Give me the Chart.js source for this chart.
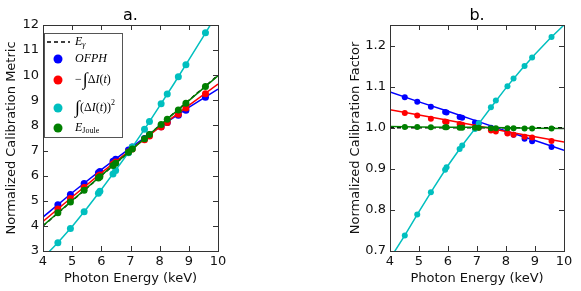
<!DOCTYPE html>
<html>
<head>
<meta charset="UTF-8">
<title>Calibration metrics</title>
<script src="https://cdn.jsdelivr.net/npm/chart.js"></script>
<style>
  body { margin: 0; background: #fff; }
  #wrap { position: relative; width: 581px; height: 291px; }
  #left { position: absolute; left: 0; top: 0; }
  #right { position: absolute; left: 290px; top: 0; }
</style>
</head>
<body>
<div id="wrap">
  <canvas id="left" width="290" height="291"></canvas>
  <canvas id="right" width="291" height="291"></canvas>
</div>
<script>
// photon energies (keV) of the measured lines
const energies = [4.51, 4.94, 5.41, 5.90, 5.95, 6.40, 6.49, 6.93, 7.06, 7.48, 7.65, 8.05, 8.26, 8.64, 8.90, 9.57];

// panel a: normalized calibration metric
const ofphA   = [4.84, 5.25, 5.69, 6.12, 6.17, 6.57, 6.65, 7.02, 7.14, 7.48, 7.63, 7.95, 8.12, 8.41, 8.61, 9.12];
const intA    = [4.67, 5.09, 5.53, 5.99, 6.03, 6.46, 6.54, 6.94, 7.06, 7.43, 7.58, 7.94, 8.12, 8.45, 8.69, 9.26];
const sqA     = [3.33, 3.90, 4.56, 5.30, 5.38, 6.07, 6.21, 6.91, 7.14, 7.85, 8.16, 8.86, 9.25, 9.94, 10.42, 11.69];
const jouleA  = [4.52, 4.95, 5.42, 5.91, 5.96, 6.40, 6.49, 6.93, 7.06, 7.47, 7.64, 8.04, 8.25, 8.62, 8.88, 9.55];

// panel b: normalized calibration factor
const ofphB   = [1.074, 1.063, 1.051, 1.038, 1.037, 1.026, 1.024, 1.013, 1.011, 1.000, 0.997, 0.988, 0.983, 0.973, 0.967, 0.953];
const intB    = [1.036, 1.030, 1.022, 1.015, 1.014, 1.009, 1.007, 1.001, 1.000, 0.993, 0.991, 0.986, 0.983, 0.978, 0.976, 0.968];
const sqB     = [0.738, 0.789, 0.843, 0.898, 0.904, 0.948, 0.957, 0.997, 1.011, 1.050, 1.066, 1.101, 1.120, 1.150, 1.171, 1.221];
const jouleB  = [1.002, 1.002, 1.001, 1.001, 1.001, 1.000, 1.000, 1.000, 1.000, 0.999, 0.999, 0.999, 0.999, 0.998, 0.998, 0.998];

// fitted curves, sampled at these energies
const fitE     = [4, 5, 6, 7, 8, 9, 10];
const ofphFitA  = [4.35, 5.32, 6.24, 7.11, 7.94, 8.72, 9.45];
const intFitA   = [4.18, 5.15, 6.11, 7.03, 7.93, 8.80, 9.65];
const jouleFitA = [4.01, 5.01, 6.01, 7.00, 8.00, 8.99, 9.98];
const egammaA   = [4, 5, 6, 7, 8, 9, 10];

const ofphFitB  = [1.087, 1.063, 1.040, 1.016, 0.992, 0.969, 0.945];
const intFitB   = [1.044, 1.031, 1.018, 1.005, 0.991, 0.978, 0.965];
const jouleFitB = [1.003, 1.002, 1.001, 1.001, 1.000, 0.999, 0.998];
const egammaB   = [1, 1, 1, 1, 1, 1, 1];

// the squared-integral fit is curved, so it gets a finer grid
const fitE2   = [4.0, 4.5, 5.0, 5.5, 6.0, 6.5, 7.0, 7.5, 8.0, 8.5, 9.0, 9.5, 10.0];
const sqFitA  = [2.72, 3.32, 3.98, 4.69, 5.45, 6.23, 7.03, 7.88, 8.78, 9.68, 10.61, 11.55, 12.50];
const sqFitB  = [0.681, 0.737, 0.796, 0.853, 0.908, 0.958, 1.004, 1.051, 1.097, 1.139, 1.179, 1.216, 1.250];

const xTicks = [4, 5, 6, 7, 8, 9, 10];

const BLUE = '#0000ff', RED = '#ff0000', CYAN = '#00bfbf', GREEN = '#008000';
const FONT = 'DejaVu Sans';

function pts(xs, ys) { return xs.map((x, i) => ({ x: x, y: ys[i] })); }

function lineDs(xs, ys, color, dash) {
  return { data: pts(xs, ys), showLine: true, borderColor: color, borderWidth: 1.5,
           borderDash: dash || [], pointRadius: 0, pointHoverRadius: 0 };
}
function dotDs(ys, color, r) {
  return { data: pts(energies, ys), showLine: false, backgroundColor: color,
           borderColor: color, pointRadius: r, borderWidth: 0 };
}

// frame with inward ticks on all four sides, plus panel title
const framePlugin = {
  id: 'frame',
  afterDraw(chart, args, opts) {
    const ctx = chart.ctx, a = chart.chartArea;
    ctx.save();
    ctx.strokeStyle = '#333';
    ctx.lineWidth = 1;
    ctx.strokeRect(Math.round(a.left) + 0.5, Math.round(a.top) + 0.5,
                   Math.round(a.right - a.left), Math.round(a.bottom - a.top));
    ctx.beginPath();
    const xs = chart.scales.x, ys = chart.scales.y;
    xs.ticks.forEach(t => {
      const px = Math.round(xs.getPixelForValue(t.value)) + 0.5;
      ctx.moveTo(px, a.bottom); ctx.lineTo(px, a.bottom - 5);
      ctx.moveTo(px, a.top); ctx.lineTo(px, a.top + 5);
    });
    ys.ticks.forEach(t => {
      const py = Math.round(ys.getPixelForValue(t.value)) + 0.5;
      ctx.moveTo(a.left, py); ctx.lineTo(a.left + 5, py);
      ctx.moveTo(a.right, py); ctx.lineTo(a.right - 5, py);
    });
    ctx.stroke();
    ctx.fillStyle = '#000';
    ctx.font = '16px "' + FONT + '"';
    ctx.textAlign = 'center';
    ctx.textBaseline = 'alphabetic';
    ctx.fillText(opts.title, (a.left + a.right) / 2, a.top - 5);
    ctx.restore();
  }
};

// legend with math-like labels for panel a
function drawRuns(ctx, x, y, runs) {
  runs.forEach(r => {
    ctx.font = r.font;
    ctx.fillText(r.t, x, y + (r.dy || 0));
    x += ctx.measureText(r.t).width + (r.gap || 0);
  });
}
const legendPlugin = {
  id: 'mathLegend',
  afterDraw(chart) {
    const ctx = chart.ctx;
    ctx.save();
    ctx.fillStyle = '#fff';
    ctx.fillRect(44, 33, 78, 104);
    ctx.strokeStyle = '#555';
    ctx.lineWidth = 1;
    ctx.strokeRect(44.5, 33.5, 78, 104);
    ctx.strokeStyle = '#000';
    ctx.lineWidth = 1.5;
    ctx.setLineDash([4, 3]);
    ctx.beginPath(); ctx.moveTo(47, 42); ctx.lineTo(70, 42); ctx.stroke();
    ctx.setLineDash([]);
    const marks = [[59, BLUE], [80, RED], [108, CYAN], [128, GREEN]];
    marks.forEach(m => {
      ctx.fillStyle = m[1];
      ctx.beginPath(); ctx.arc(58, m[0], 4.5, 0, Math.PI * 2); ctx.fill();
    });
    ctx.fillStyle = '#000';
    ctx.textBaseline = 'middle';
    ctx.textAlign = 'left';
    const it = 'italic 12px "Liberation Serif"', up = '12px "Liberation Serif"';
    const sm = '8px "Liberation Serif"', big = '18px "Liberation Serif"';
    drawRuns(ctx, 75, 42, [{ t: 'E', font: it }, { t: 'γ', font: 'italic ' + sm, dy: 3 }]);
    drawRuns(ctx, 75, 59, [{ t: 'OFPH', font: it }]);
    drawRuns(ctx, 75, 80, [{ t: '−', font: up, gap: 1 }, { t: '∫', font: big }, { t: 'Δ', font: up },
                           { t: 'I', font: it }, { t: '(', font: up }, { t: 't', font: it }, { t: ')', font: up }]);
    drawRuns(ctx, 75, 108, [{ t: '∫', font: big }, { t: '(Δ', font: up }, { t: 'I', font: it }, { t: '(', font: up },
                            { t: 't', font: it }, { t: '))', font: up }, { t: '2', font: sm, dy: -5 }]);
    drawRuns(ctx, 75, 128, [{ t: 'E', font: it }, { t: 'Joule', font: sm, dy: 3 }]);
    ctx.restore();
  }
};

function makeChart(id, cfg) {
  return new Chart(document.getElementById(id), {
    type: 'scatter',
    data: { datasets: cfg.datasets },
    options: {
      responsive: false,
      animation: false,
      events: [],
      layout: { padding: cfg.padding },
      plugins: { legend: { display: false }, tooltip: { enabled: false }, frame: { title: cfg.title } },
      scales: {
        x: {
          type: 'linear', min: 4, max: 10,
          afterBuildTicks: s => { s.ticks = xTicks.map(v => ({ value: v })); },
          afterFit: s => { s.height = 40; },
          grid: { display: false, drawTicks: false },
          border: { display: false },
          ticks: { color: '#111', font: { family: FONT, size: 13 }, padding: 3 },
          title: { display: true, text: 'Photon Energy (keV)', color: '#111',
                   font: { family: FONT, size: 13 }, padding: { top: 0, bottom: 5 } }
        },
        y: {
          type: 'linear', min: cfg.ymin, max: cfg.ymax,
          afterBuildTicks: s => { s.ticks = cfg.yTicks.map(v => ({ value: v })); },
          afterFit: s => { s.width = cfg.yWidth; },
          grid: { display: false, drawTicks: false },
          border: { display: false },
          ticks: { color: '#111', font: { family: FONT, size: 13 }, padding: 4,
                   callback: cfg.yFmt },
          title: { display: true, text: cfg.yTitle, color: '#111',
                   font: { family: FONT, size: 13 }, padding: { top: 4, bottom: 4 } }
        }
      }
    },
    plugins: cfg.plugins
  });
}

makeChart('left', {
  title: 'a.',
  padding: { left: 0, right: 72, top: 25, bottom: 0 },
  ymin: 3, ymax: 12, yWidth: 43,
  yTicks: [3, 4, 5, 6, 7, 8, 9, 10, 11, 12],
  yFmt: v => String(v),
  yTitle: 'Normalized Calibration Metric',
  plugins: [framePlugin, legendPlugin],
  datasets: [
    dotDs(jouleA, GREEN, 3.5), lineDs(fitE, jouleFitA, GREEN),
    dotDs(sqA, CYAN, 3.5), lineDs(fitE2, sqFitA, CYAN),
    dotDs(intA, RED, 3.5), lineDs(fitE, intFitA, RED),
    dotDs(ofphA, BLUE, 3.5), lineDs(fitE, ofphFitA, BLUE),
    lineDs(fitE, egammaA, '#000', [4, 3])
  ]
});

makeChart('right', {
  title: 'b.',
  padding: { left: 54, right: 17, top: 25, bottom: 0 },
  ymin: 0.7, ymax: 1.25, yWidth: 46,
  yTicks: [0.7, 0.8, 0.9, 1.0, 1.1, 1.2],
  yFmt: v => v.toFixed(1),
  yTitle: 'Normalized Calibration Factor',
  plugins: [framePlugin],
  datasets: [
    dotDs(jouleB, GREEN, 3), lineDs(fitE, jouleFitB, GREEN),
    dotDs(sqB, CYAN, 3), lineDs(fitE2, sqFitB, CYAN),
    dotDs(intB, RED, 3), lineDs(fitE, intFitB, RED),
    dotDs(ofphB, BLUE, 3), lineDs(fitE, ofphFitB, BLUE),
    lineDs(fitE, egammaB, '#000', [4, 3])
  ]
});
</script>
</body>
</html>
